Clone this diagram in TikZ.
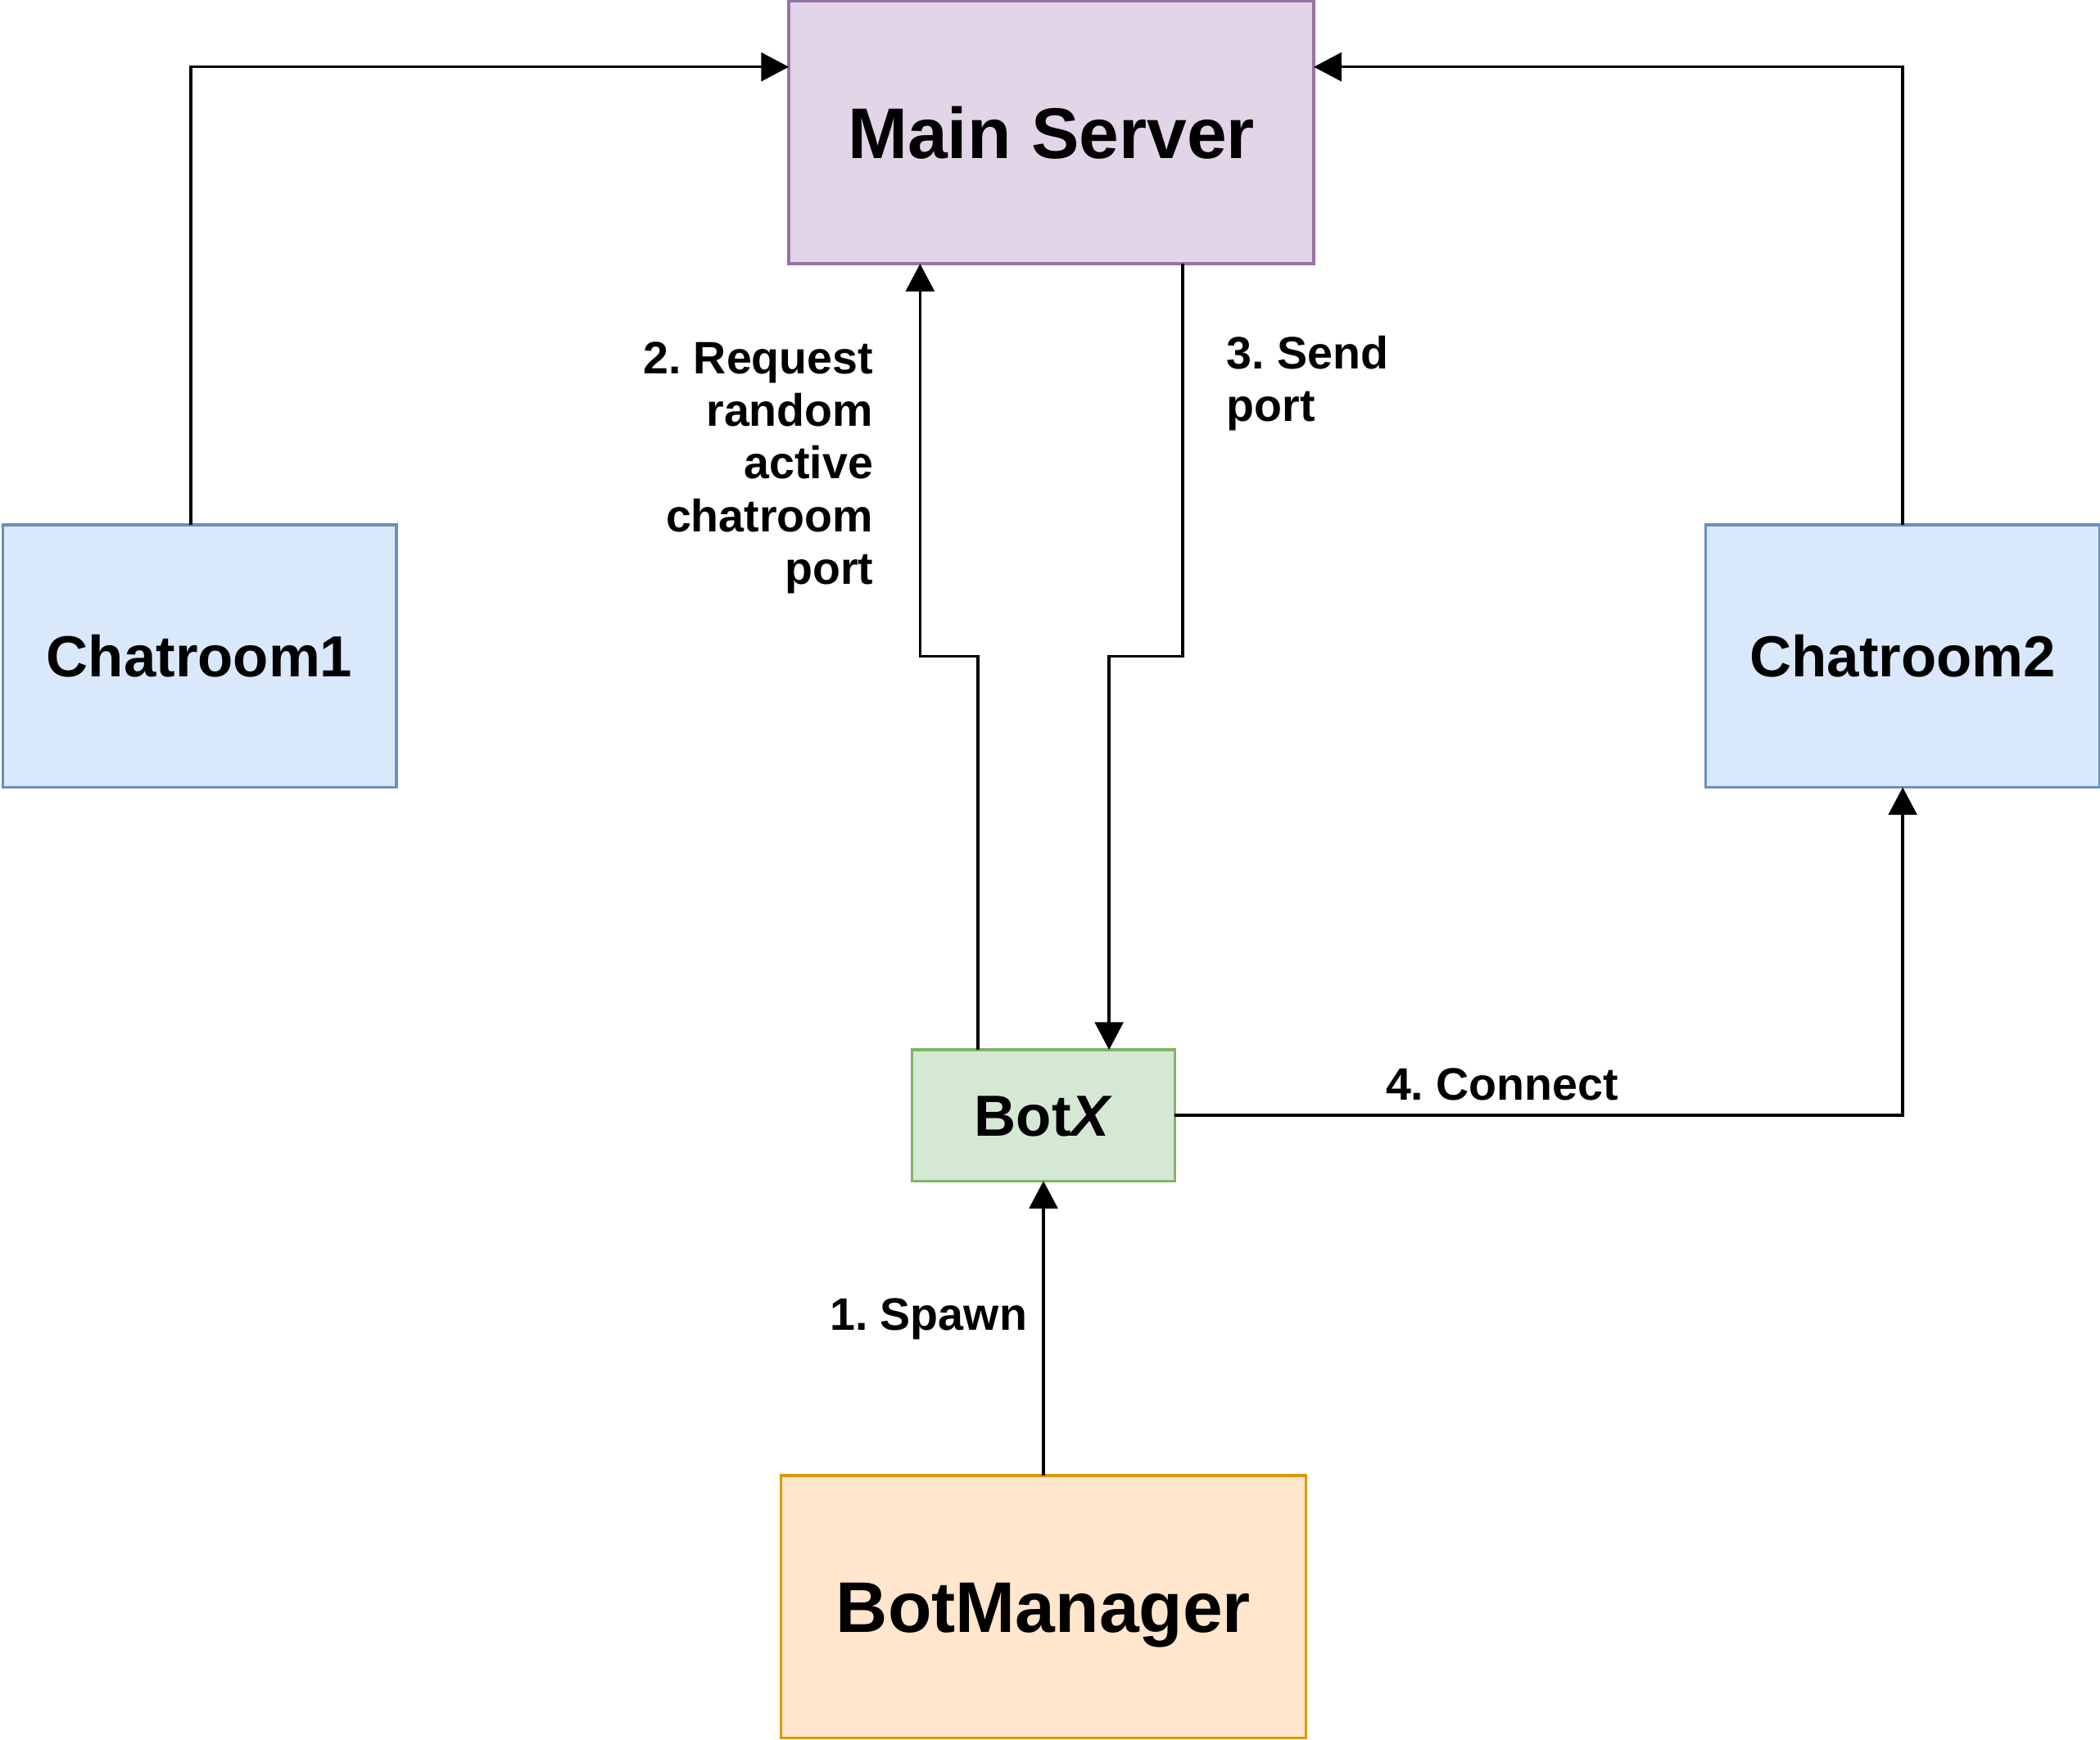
\documentclass[tikz,border=0pt]{standalone}
\usepackage{fontspec}
\setmainfont{Liberation Sans}
\usepackage{tikz}
\usetikzlibrary{arrows.meta,calc,positioning}
\frenchspacing

\definecolor{msfill}{HTML}{E1D5E7}
\definecolor{msline}{HTML}{9673A6}
\definecolor{crfill}{HTML}{DAE8FC}
\definecolor{crline}{HTML}{6C8EBF}
\definecolor{bxfill}{HTML}{D5E8D4}
\definecolor{bxline}{HTML}{82B366}
\definecolor{bmfill}{HTML}{FFE6CC}
\definecolor{bmline}{HTML}{D79B00}

\begin{document}
\begin{tikzpicture}[x=1pt, y=1pt,
  box/.style={draw, rectangle, line width=1.25pt, inner sep=0pt, outer sep=0pt, text depth=0pt},
  bigbox/.style={box, minimum width=240pt, minimum height=120pt,
    font=\fontsize{32.8}{37.7}\selectfont\bfseries, text height=23.5pt},
  midbox/.style={box, font=\fontsize{26.5}{30.5}\selectfont\bfseries, text height=19pt},
  arr/.style={line width=1.25pt, -{Triangle[length=12.6pt, width=13pt]}},
  lbl/.style={inner sep=0pt, outer sep=0pt, font=\fontsize{20.8}{24}\selectfont\bfseries\frenchspacing}]

  \useasboundingbox (0,0) rectangle (960,-795.3);

  % boxes
  \node[bigbox, fill=msfill, draw=msline] (ms) at (480.6,-60.6) {Main Server};
  \node[midbox, fill=crfill, draw=crline, minimum width=180pt, minimum height=120pt] (cr1) at (91.2,-300) {Chatroom1};
  \node[midbox, fill=crfill, draw=crline, minimum width=180pt, minimum height=120pt] (cr2) at (869.8,-300) {Chatroom2};
  \node[midbox, fill=bxfill, draw=bxline, minimum width=120pt, minimum height=60pt] (bx) at (477,-510) {Bot\textit{X}};
  \node[bigbox, fill=bmfill, draw=bmline] (bm) at (477,-734.7) {BotManager};

  \coordinate (msL) at ($(ms.north west)!.25!(ms.south west)$);
  \coordinate (msR) at ($(ms.north east)!.25!(ms.south east)$);
  \coordinate (msA) at ($(ms.south west)!.25!(ms.south east)$);
  \coordinate (msB) at ($(ms.south west)!.75!(ms.south east)$);
  \coordinate (bxA) at ($(bx.north west)!.25!(bx.north east)$);
  \coordinate (bxB) at ($(bx.north west)!.75!(bx.north east)$);

  % connectors
  \draw[arr] ([xshift=-4pt]cr1.north) |- (msL);
  \draw[arr] (cr2.north) |- (msR);
  \draw[arr] (bm) -- node[lbl, pos=.55, left=7.5pt, text height=14.9pt, text depth=0pt] (spawn) {1. Spawn} (bx);
  \draw[arr] (bxA) -- (bxA |- cr1) -| (msA);
  \draw[arr] (msB) -- (msB |- cr1) -| (bxB);
  \draw[arr] (bx.east) -| (cr2.south);

  % labels
  \node[lbl, anchor=north east, align=right] (req) at (399.2,-156.5) {2. Request\\random\\active\\chatroom\\port};
  \node[lbl, anchor=north west, align=left] (send) at (560.8,-153.5) {3. Send\\port};
  \node[lbl, text height=14.9pt, text depth=0pt] (conn) at (686.7,-495.6) {4. Connect};

\end{tikzpicture}
\end{document}
